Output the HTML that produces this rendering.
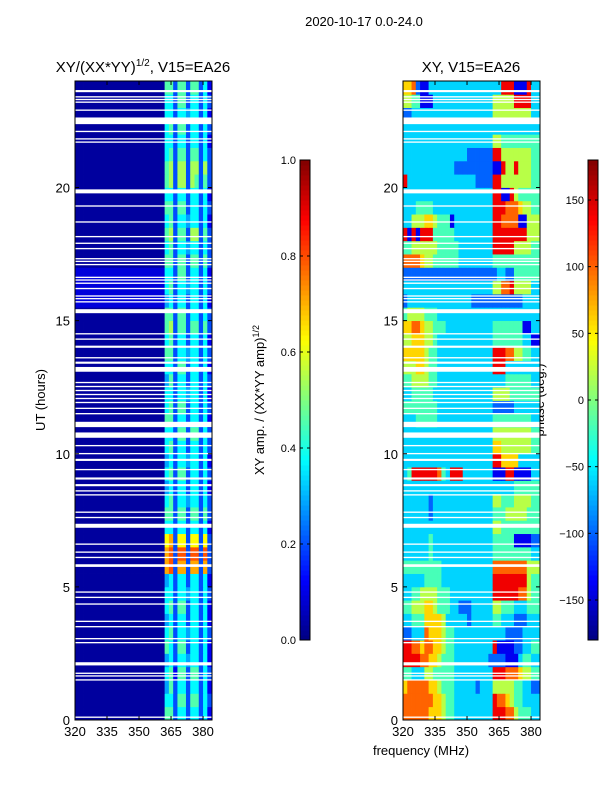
<!DOCTYPE html>
<html><head><meta charset="utf-8"><style>
body{margin:0;background:#fff;}
svg text{font-family:"Liberation Sans",sans-serif;fill:#000;}
</style></head><body>
<svg id="fig" width="600" height="800" xmlns="http://www.w3.org/2000/svg">
<rect width="600" height="800" fill="#fff"/>
<text x="364" y="26" font-size="13" text-anchor="middle">2020-10-17 0.0-24.0</text>
<text x="143" y="72" font-size="15" text-anchor="middle">XY/(XX*YY)<tspan font-size="10" dy="-6">1/2</tspan><tspan dy="6">, V15=EA26</tspan></text>
<text x="471" y="72" font-size="15" text-anchor="middle">XY, V15=EA26</text>
<text transform="translate(45,400) rotate(-90)" font-size="13" text-anchor="middle">UT (hours)</text>
<text x="421" y="755" font-size="13" text-anchor="middle">frequency (MHz)</text>
<text transform="translate(264,400) rotate(-90)" font-size="13" text-anchor="middle">XY amp. / (XX*YY amp)<tspan font-size="9" dy="-5">1/2</tspan></text>
<text transform="translate(544,400) rotate(-90)" font-size="13" text-anchor="middle">phase (deg.)</text>
<g id="left"></g>
<g id="right"></g>
<g id="cbars"></g>
<g id="axes"></g>
</svg>
<script>
const yTicks=[0,5,10,15,20];
const xTicks=[320,335,350,365,380];
const ampTicks=[0.0,0.2,0.4,0.6,0.8,1.0];
const phaseTicks=[-150,-100,-50,0,50,100,150];
const leftBg=[0,0,0,0,0,0,0,0,0,0,0,0,0,0,0,0,0,0,0,0,0,0,0,0,0,0,0,0,0,0,0,1,1,1,0,0,0,0,0,0,0,0,0,0,0,0,0,0];
const leftStrips=["55244244241","44255255242","35244244241","45155255242","34244344241","54255244241","45244344242","34244244241","45255244241","44244344242","34244244241","89288288282","89299299292","78277277272","44244244241","55255255252","45244344242","34244244241","45255244242","34244344241","45244244242","44255255242","55244244241","45255244242","44244344241","35244244242","44255244241","55244344242","45244244241","56255255252","55255244242","34244244241","45244344242","44255244241","55255255252","45244344242","56255266252","45244344241","55255244242","44244244241","56266265252","56266266262","45255255242","44244244241","45255244242","44244344241","44255244242","55255255241"];
const phaseRows=["77777766654433333333388877544433","77777776654433333333387765443333","67777766544433333233355555443322","44333554444433333333388877765544","88887766544433333333222211134433","88776776654433333333381111223344","22333766654433333333333322223333","33444666653333323333344333222333","44555665444332223333355444333444","33445555444333333333388888877544","33333444433333333333388888888544","44444444433333333333377777777555","33333343333333333333344444444433","33333343333333333333344444111122","33333333333333333333355444444444","33333323333333333333344455555444","33333323333333333333355444555544","33333333333333333333333333444444","34888888743888333333311188111133","33333333333333333333388666633333","33333333333333333333366555555544","33333333333333333333355555555544","33344444333333333333344444444433","44444444333333333333322222333333","33444443333333333333355554444444","44555544333333333333333344444433","55566544333333333333388833333333","66666544333333333333388877554433","55666554333333333333344444443311","66776554443333333333344444441133","45555444333333333333333333333333","23333333333333332222222222223333","33333333333333333333355778555533","22222222222222222222223322444444","77776554444443333333344444444444","44555555444443333333388888555544","81818884444433333333388888888555","33555665444133333333388777711555","33344443333333333333388877765544","33333333333333333333388118544444","83333333333333333222288555555544","33333333333322222222211855855544","33333333333333322222288555555544","33333333333333333333355444444444","33333333333333333333333333333333","22333333333333333333355555555533","55441113333333333333355555888833","66721133333333333333333888111833"];
const flagged=[[0.08,0.05],[1.48,0.05],[1.63,0.05],[1.73,0.05],[2.05,0.12],[2.88,0.05],[3.03,0.05],[3.48,0.05],[3.68,0.05],[4.33,0.05],[4.58,0.05],[4.78,0.05],[5.75,0.1],[6.08,0.05],[6.28,0.05],[6.58,0.05],[7.22,0.15],[7.58,0.05],[7.78,0.05],[8.43,0.05],[8.58,0.05],[8.78,0.08],[9.03,0.08],[9.38,0.05],[9.73,0.08],[9.98,0.05],[10.28,0.05],[10.6,0.2],[11.0,0.2],[11.48,0.05],[11.68,0.05],[11.9,0.05],[12.05,0.05],[12.2,0.05],[12.35,0.05],[12.5,0.05],[12.65,0.05],[13.08,0.18],[13.38,0.08],[13.58,0.05],[13.98,0.08],[14.28,0.05],[14.48,0.05],[15.28,0.15],[15.68,0.05],[15.8,0.05],[15.9,0.05],[16.18,0.05],[16.38,0.05],[16.5,0.05],[16.6,0.05],[17.08,0.05],[17.2,0.05],[17.3,0.05],[17.68,0.05],[17.88,0.05],[18.13,0.05],[18.68,0.05],[19.28,0.05],[19.78,0.15],[21.68,0.05],[21.8,0.05],[22.08,0.05],[22.38,0.25],[22.88,0.05],[23.18,0.05],[23.28,0.05],[23.38,0.05],[23.58,0.08]];

const NS="http://www.w3.org/2000/svg";
const T0=81,B0=720,W=137,HMAX=24,F0=320,F1=384.2,NC=32,DF=2,DH=0.5;
function yS(h){return B0-h*(B0-T0)/HMAX;}
function xS(x0,f){return x0+(f-F0)*W/(F1-F0);}
function jet(v){v=Math.max(0,Math.min(1,v));
 const r=Math.min(Math.max(Math.min(4*v-1.5,-4*v+4.5),0),1);
 const g=Math.min(Math.max(Math.min(4*v-0.5,-4*v+3.5),0),1);
 const b=Math.min(Math.max(Math.min(4*v+0.5,-4*v+2.5),0),1);
 return `rgb(${Math.round(r*255)},${Math.round(g*255)},${Math.round(b*255)})`;}
function mk(tag,attrs,parent){const e=document.createElementNS(NS,tag);for(const k in attrs)e.setAttribute(k,attrs[k]);parent.appendChild(e);return e;}

function drawPanel(g,x0,valFn){
 for(let r=0;r<leftBg.length;r++){
  for(let c=0;c<NC;c++){
   const f=F0+c*DF, xa=xS(x0,f), xb=Math.min(xS(x0,f+DF),x0+W);
   const ya=yS((r+1)*DH), yb=yS(r*DH);
   const e=mk('rect',{x:xa.toFixed(2),y:ya.toFixed(2),width:(xb-xa+0.4).toFixed(2),height:(yb-ya+0.4).toFixed(2),fill:jet(valFn(r,c))},g);
   
   
  }
 }
 for(const fl of flagged){
  const e=mk('rect',{x:x0,y:yS(fl[0]+fl[1]),width:W,height:Math.max(1.2,yS(fl[0])-yS(fl[0]+fl[1])),fill:'#fff'},g);
  
  
 }
}
drawPanel(document.getElementById('left'),75,(r,c)=> c<21 ? 0.03+leftBg[r]*0.06 : 0.03+(+leftStrips[r][c-21])*0.085);
drawPanel(document.getElementById('right'),403,(r,c)=>{const ph=-180+(+phaseRows[r][c])*40;return (ph+180)/360;});

const ax=document.getElementById('axes');
for(const x0 of [75,403]){
 const fr=mk('rect',{x:x0,y:T0,width:W,height:B0-T0,fill:'none',stroke:'#000','stroke-width':1},ax);
 
 
 for(const t of yTicks){const y=yS(t);
  mk('line',{x1:x0,x2:x0+4,y1:y,y2:y,stroke:'#000'},ax);
  mk('line',{x1:x0+W,x2:x0+W-4,y1:y,y2:y,stroke:'#000'},ax);
  const tx=mk('text',{x:x0-5,y:y+5,'font-size':13,'text-anchor':'end'},ax);tx.textContent=t;
  
  
 }
 for(const t of xTicks){const x=xS(x0,t);
  mk('line',{x1:x,x2:x,y1:B0,y2:B0-4,stroke:'#000'},ax);
  mk('line',{x1:x,x2:x,y1:T0,y2:T0+4,stroke:'#000'},ax);
  const tx=mk('text',{x:x,y:B0+16,'font-size':13,'text-anchor':'middle'},ax);tx.textContent=t;
  
  
 }
}
const cb=document.getElementById('cbars');
const CT=160,CB=640;
function colorbar(x,ticks,vmin,vmax,fmt,name){
 const g=mk('g',{},cb);
 
 
 const n=96;
 for(let i=0;i<n;i++){const y=CB-(i+1)*(CB-CT)/n;mk('rect',{x:x,y:y,width:10,height:(CB-CT)/n+0.5,fill:jet((i+0.5)/n)},g);}
 mk('rect',{x:x,y:CT,width:10,height:CB-CT,fill:'none',stroke:'#000','stroke-width':1},g);
 for(const t of ticks){const y=CB-(t-vmin)/(vmax-vmin)*(CB-CT);
  mk('line',{x1:x,x2:x+3,y1:y,y2:y,stroke:'#000'},g);mk('line',{x1:x+10,x2:x+7,y1:y,y2:y,stroke:'#000'},g);
  const tx=mk('text',{x:x-4,y:y+4,'font-size':11,'text-anchor':'end'},g);tx.textContent=fmt(t);
  
  
 }
}
colorbar(300,ampTicks,0,1,t=>t.toFixed(1),'amplitude-colorbar');
colorbar(588,phaseTicks,-180,180,t=>t<0?'\u2212'+(-t):''+t,'phase-colorbar');
</script>
</body></html>
